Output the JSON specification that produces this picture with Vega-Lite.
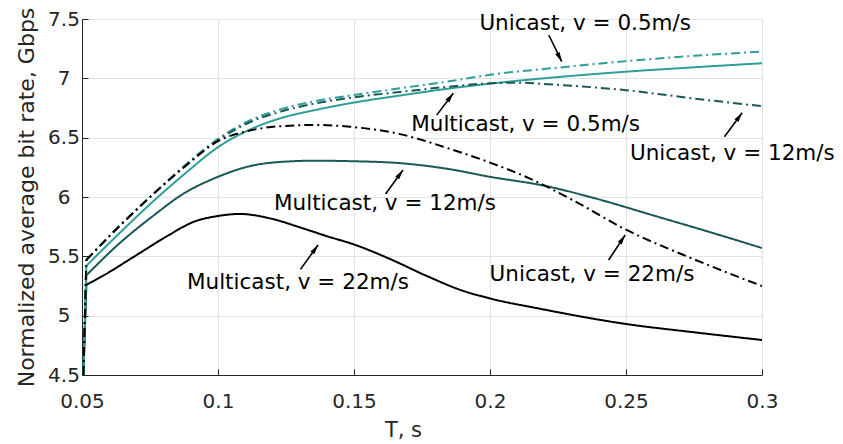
{
  "$schema": "https://vega.github.io/schema/vega-lite/v6.json",
  "autosize": "none",
  "width": 680,
  "height": 356,
  "padding": {"left": 82, "top": 19, "right": 81, "bottom": 69},
  "background": "white",
  "config": {
    "view": {"stroke": null},
    "font": "DejaVu Sans",
    "axis": {
      "domainColor": "#262626", "domainWidth": 1,
      "tickColor": "#262626", "tickWidth": 1, "tickSize": -6,
      "gridColor": "#e3e3e3", "gridWidth": 1,
      "labelColor": "#262626", "labelFont": "DejaVu Sans", "labelFontSize": 20,
      "titleColor": "#262626", "titleFont": "DejaVu Sans", "titleFontSize": 21, "titleFontWeight": "normal",
      "labelFlush": false, "labelOverlap": false, "labelBound": false
    }
  },
  "datasets": {
    "curves": [
      {"type": "Multicast", "speed": "22", "T": 0.0505, "rate": 4.5},
      {"type": "Multicast", "speed": "22", "T": 0.0516, "rate": 5.26},
      {"type": "Multicast", "speed": "22", "T": 0.058, "rate": 5.34},
      {"type": "Multicast", "speed": "22", "T": 0.07, "rate": 5.51},
      {"type": "Multicast", "speed": "22", "T": 0.082, "rate": 5.68},
      {"type": "Multicast", "speed": "22", "T": 0.091, "rate": 5.79},
      {"type": "Multicast", "speed": "22", "T": 0.1, "rate": 5.84},
      {"type": "Multicast", "speed": "22", "T": 0.108, "rate": 5.857},
      {"type": "Multicast", "speed": "22", "T": 0.12, "rate": 5.815},
      {"type": "Multicast", "speed": "22", "T": 0.13, "rate": 5.745},
      {"type": "Multicast", "speed": "22", "T": 0.14, "rate": 5.67},
      {"type": "Multicast", "speed": "22", "T": 0.15, "rate": 5.6},
      {"type": "Multicast", "speed": "22", "T": 0.163, "rate": 5.48},
      {"type": "Multicast", "speed": "22", "T": 0.1767, "rate": 5.335},
      {"type": "Multicast", "speed": "22", "T": 0.19, "rate": 5.21},
      {"type": "Multicast", "speed": "22", "T": 0.2, "rate": 5.145},
      {"type": "Multicast", "speed": "22", "T": 0.218, "rate": 5.06},
      {"type": "Multicast", "speed": "22", "T": 0.25, "rate": 4.93},
      {"type": "Multicast", "speed": "22", "T": 0.275, "rate": 4.86},
      {"type": "Multicast", "speed": "22", "T": 0.3, "rate": 4.795},

      {"type": "Multicast", "speed": "12", "T": 0.0505, "rate": 4.5},
      {"type": "Multicast", "speed": "12", "T": 0.0516, "rate": 5.34},
      {"type": "Multicast", "speed": "12", "T": 0.0638, "rate": 5.61},
      {"type": "Multicast", "speed": "12", "T": 0.0761, "rate": 5.84},
      {"type": "Multicast", "speed": "12", "T": 0.0871, "rate": 6.025},
      {"type": "Multicast", "speed": "12", "T": 0.1, "rate": 6.17},
      {"type": "Multicast", "speed": "12", "T": 0.1117, "rate": 6.26},
      {"type": "Multicast", "speed": "12", "T": 0.1239, "rate": 6.297},
      {"type": "Multicast", "speed": "12", "T": 0.136, "rate": 6.306},
      {"type": "Multicast", "speed": "12", "T": 0.1485, "rate": 6.302},
      {"type": "Multicast", "speed": "12", "T": 0.167, "rate": 6.285},
      {"type": "Multicast", "speed": "12", "T": 0.185, "rate": 6.235},
      {"type": "Multicast", "speed": "12", "T": 0.2, "rate": 6.17},
      {"type": "Multicast", "speed": "12", "T": 0.22, "rate": 6.095},
      {"type": "Multicast", "speed": "12", "T": 0.24, "rate": 5.98},
      {"type": "Multicast", "speed": "12", "T": 0.26, "rate": 5.845},
      {"type": "Multicast", "speed": "12", "T": 0.28, "rate": 5.71},
      {"type": "Multicast", "speed": "12", "T": 0.3, "rate": 5.57},

      {"type": "Multicast", "speed": "0.5", "T": 0.0505, "rate": 4.5},
      {"type": "Multicast", "speed": "0.5", "T": 0.0516, "rate": 5.42},
      {"type": "Multicast", "speed": "0.5", "T": 0.064, "rate": 5.7},
      {"type": "Multicast", "speed": "0.5", "T": 0.076, "rate": 5.96},
      {"type": "Multicast", "speed": "0.5", "T": 0.088, "rate": 6.2},
      {"type": "Multicast", "speed": "0.5", "T": 0.1, "rate": 6.42},
      {"type": "Multicast", "speed": "0.5", "T": 0.1129, "rate": 6.58},
      {"type": "Multicast", "speed": "0.5", "T": 0.1239, "rate": 6.67},
      {"type": "Multicast", "speed": "0.5", "T": 0.1362, "rate": 6.735},
      {"type": "Multicast", "speed": "0.5", "T": 0.1485, "rate": 6.79},
      {"type": "Multicast", "speed": "0.5", "T": 0.1669, "rate": 6.855},
      {"type": "Multicast", "speed": "0.5", "T": 0.1853, "rate": 6.915},
      {"type": "Multicast", "speed": "0.5", "T": 0.2, "rate": 6.955},
      {"type": "Multicast", "speed": "0.5", "T": 0.2221, "rate": 7.005},
      {"type": "Multicast", "speed": "0.5", "T": 0.25, "rate": 7.056},
      {"type": "Multicast", "speed": "0.5", "T": 0.275, "rate": 7.093},
      {"type": "Multicast", "speed": "0.5", "T": 0.3, "rate": 7.127},

      {"type": "Unicast", "speed": "0.5", "T": 0.0505, "rate": 4.5},
      {"type": "Unicast", "speed": "0.5", "T": 0.0516, "rate": 5.47},
      {"type": "Unicast", "speed": "0.5", "T": 0.064, "rate": 5.76},
      {"type": "Unicast", "speed": "0.5", "T": 0.076, "rate": 6.02},
      {"type": "Unicast", "speed": "0.5", "T": 0.088, "rate": 6.27},
      {"type": "Unicast", "speed": "0.5", "T": 0.1, "rate": 6.49},
      {"type": "Unicast", "speed": "0.5", "T": 0.1117, "rate": 6.645},
      {"type": "Unicast", "speed": "0.5", "T": 0.1239, "rate": 6.745},
      {"type": "Unicast", "speed": "0.5", "T": 0.1362, "rate": 6.81},
      {"type": "Unicast", "speed": "0.5", "T": 0.15, "rate": 6.86},
      {"type": "Unicast", "speed": "0.5", "T": 0.1669, "rate": 6.916},
      {"type": "Unicast", "speed": "0.5", "T": 0.185, "rate": 6.975},
      {"type": "Unicast", "speed": "0.5", "T": 0.2, "rate": 7.03},
      {"type": "Unicast", "speed": "0.5", "T": 0.225, "rate": 7.09},
      {"type": "Unicast", "speed": "0.5", "T": 0.25, "rate": 7.145},
      {"type": "Unicast", "speed": "0.5", "T": 0.275, "rate": 7.19},
      {"type": "Unicast", "speed": "0.5", "T": 0.3, "rate": 7.225},

      {"type": "Unicast", "speed": "12", "T": 0.0505, "rate": 4.5},
      {"type": "Unicast", "speed": "12", "T": 0.0516, "rate": 5.47},
      {"type": "Unicast", "speed": "12", "T": 0.064, "rate": 5.76},
      {"type": "Unicast", "speed": "12", "T": 0.076, "rate": 6.02},
      {"type": "Unicast", "speed": "12", "T": 0.088, "rate": 6.265},
      {"type": "Unicast", "speed": "12", "T": 0.1, "rate": 6.48},
      {"type": "Unicast", "speed": "12", "T": 0.1117, "rate": 6.63},
      {"type": "Unicast", "speed": "12", "T": 0.1239, "rate": 6.725},
      {"type": "Unicast", "speed": "12", "T": 0.1362, "rate": 6.79},
      {"type": "Unicast", "speed": "12", "T": 0.15, "rate": 6.84},
      {"type": "Unicast", "speed": "12", "T": 0.1669, "rate": 6.885},
      {"type": "Unicast", "speed": "12", "T": 0.185, "rate": 6.93},
      {"type": "Unicast", "speed": "12", "T": 0.2, "rate": 6.958},
      {"type": "Unicast", "speed": "12", "T": 0.21, "rate": 6.963},
      {"type": "Unicast", "speed": "12", "T": 0.225, "rate": 6.945},
      {"type": "Unicast", "speed": "12", "T": 0.25, "rate": 6.9},
      {"type": "Unicast", "speed": "12", "T": 0.275, "rate": 6.83},
      {"type": "Unicast", "speed": "12", "T": 0.3, "rate": 6.765},

      {"type": "Unicast", "speed": "22", "T": 0.0505, "rate": 4.5},
      {"type": "Unicast", "speed": "22", "T": 0.0516, "rate": 5.47},
      {"type": "Unicast", "speed": "22", "T": 0.064, "rate": 5.76},
      {"type": "Unicast", "speed": "22", "T": 0.076, "rate": 6.02},
      {"type": "Unicast", "speed": "22", "T": 0.088, "rate": 6.26},
      {"type": "Unicast", "speed": "22", "T": 0.1, "rate": 6.47},
      {"type": "Unicast", "speed": "22", "T": 0.1117, "rate": 6.56},
      {"type": "Unicast", "speed": "22", "T": 0.1239, "rate": 6.598},
      {"type": "Unicast", "speed": "22", "T": 0.1362, "rate": 6.607},
      {"type": "Unicast", "speed": "22", "T": 0.1485, "rate": 6.592},
      {"type": "Unicast", "speed": "22", "T": 0.1669, "rate": 6.53},
      {"type": "Unicast", "speed": "22", "T": 0.1853, "rate": 6.405},
      {"type": "Unicast", "speed": "22", "T": 0.2, "rate": 6.29},
      {"type": "Unicast", "speed": "22", "T": 0.2147, "rate": 6.155},
      {"type": "Unicast", "speed": "22", "T": 0.2295, "rate": 5.985},
      {"type": "Unicast", "speed": "22", "T": 0.25, "rate": 5.725},
      {"type": "Unicast", "speed": "22", "T": 0.275, "rate": 5.475},
      {"type": "Unicast", "speed": "22", "T": 0.3, "rate": 5.25}
    ],
    "notes": [
      {"label": "Unicast, v = 0.5m/s", "lx": 0.235, "ly": 7.46, "tx": 0.2216, "ty": 7.365, "hx": 0.2264, "hy": 7.14, "heading": 153},
      {"label": "Multicast, v = 0.5m/s", "lx": 0.2131, "ly": 6.607, "tx": 0.1804, "ty": 6.69, "hx": 0.1865, "hy": 6.874, "heading": 37},
      {"label": "Unicast, v = 12m/s", "lx": 0.2891, "ly": 6.362, "tx": 0.2862, "ty": 6.508, "hx": 0.2927, "hy": 6.71, "heading": 36},
      {"label": "Multicast, v = 12m/s", "lx": 0.1614, "ly": 5.945, "tx": 0.1616, "ty": 6.025, "hx": 0.168, "hy": 6.228, "heading": 36},
      {"label": "Multicast, v = 22m/s", "lx": 0.1294, "ly": 5.273, "tx": 0.1303, "ty": 5.39, "hx": 0.1368, "hy": 5.596, "heading": 36},
      {"label": "Unicast, v = 22m/s", "lx": 0.2375, "ly": 5.343, "tx": 0.2436, "ty": 5.469, "hx": 0.2497, "hy": 5.68, "heading": 34}
    ]
  },
  "encoding": {
    "x": {"field": "T", "type": "quantitative",
          "scale": {"domain": [0.05, 0.3], "nice": false, "zero": false},
          "axis": {"title": "T, s", "values": [0.05, 0.1, 0.15, 0.2, 0.25, 0.3], "format": "~g",
                   "labelPadding": 22, "labelBaseline": "top",
                   "titleX": 321, "titleY": 61.5, "titleBaseline": "alphabetic", "titleAlign": "center", "titleAnchor": null}},
    "y": {"field": "rate", "type": "quantitative",
          "scale": {"domain": [4.5, 7.5], "nice": false, "zero": false},
          "axis": {"title": "Normalized average bit rate, Gbps", "values": [4.5, 5, 5.5, 6, 6.5, 7, 7.5], "format": "~g",
                   "labelPadding": 24.5, "labelAlign": "center", "labelBaseline": "middle", "titleFontSize": 22,
                   "titleX": -49, "titleY": 178, "titleAngle": 270, "titleBaseline": "alphabetic", "titleAlign": "center", "titleAnchor": null}},
    "color": {"field": "speed", "type": "nominal",
              "scale": {"domain": ["0.5", "12", "22"], "range": ["#2e9e98", "#1a5858", "#000000"]}, "legend": null},
    "strokeDash": {"field": "type", "type": "nominal",
                   "scale": {"domain": ["Multicast", "Unicast"], "range": [[1, 0], [9, 4, 2, 4]]}, "legend": null},
    "detail": {"field": "speed"},
    "order": {"field": "T", "type": "quantitative"}
  },
  "layer": [
    {
      "data": {"name": "curves"},
      "transform": [{"filter": "datum.T <= 0.0516"}],
      "mark": {"type": "line", "interpolate": "linear", "strokeWidth": 2, "clip": true}
    },
    {
      "data": {"name": "curves"},
      "transform": [{"filter": "datum.T >= 0.0516"}],
      "mark": {"type": "line", "interpolate": "monotone", "strokeWidth": 2, "clip": true}
    },
    {
      "data": {"name": "notes"},
      "mark": {"type": "rule", "color": "black", "strokeWidth": 1.6},
      "encoding": {
        "x": {"field": "tx", "type": "quantitative"},
        "y": {"field": "ty", "type": "quantitative"},
        "x2": {"field": "hx"},
        "y2": {"field": "hy"},
        "color": null, "strokeDash": null, "detail": null, "order": null
      }
    },
    {
      "data": {"name": "notes"},
      "mark": {"type": "point", "shape": "M0,0 L-0.25,1 L0.25,1 Z", "filled": true, "color": "black", "size": 380, "opacity": 1},
      "encoding": {
        "x": {"field": "hx", "type": "quantitative"},
        "y": {"field": "hy", "type": "quantitative"},
        "angle": {"field": "heading", "type": "quantitative", "scale": null},
        "color": null, "strokeDash": null, "detail": null, "order": null
      }
    },
    {
      "data": {"name": "notes"},
      "mark": {"type": "text", "font": "DejaVu Sans", "fontSize": 21.5, "color": "black", "align": "center", "baseline": "middle"},
      "encoding": {
        "x": {"field": "lx", "type": "quantitative"},
        "y": {"field": "ly", "type": "quantitative"},
        "text": {"field": "label"},
        "color": null, "strokeDash": null, "detail": null, "order": null
      }
    }
  ]
}
